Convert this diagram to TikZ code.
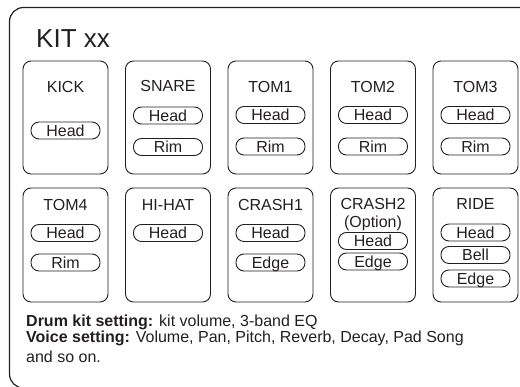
\documentclass[tikz,border=0pt]{standalone}
\usepackage{fontspec}
\setmainfont{Liberation Sans}
\definecolor{ink}{HTML}{231F20}
\tikzset{
  frame/.style={draw=ink, line width=1.2pt, rounded corners=14pt},
  pad/.style={draw=ink, line width=0.9pt, rounded corners=8pt, minimum width=85pt, inner sep=0pt},
  pill/.style={draw=ink, line width=0.9pt, rounded corners=8pt, minimum width=69pt, minimum height=17pt,
    inner sep=0pt, text height=11.4pt, text depth=0pt, text=ink, font=\fontsize{16}{16}\selectfont},
  ttl/.style={anchor=base, inner sep=0pt, text=ink, font=\fontsize{16}{16}\selectfont},
  note/.style={anchor=base west, inner sep=0pt, text=ink, font=\fontsize{16}{16}\selectfont}
}
\begin{document}
\begin{tikzpicture}[x=1pt,y=-1pt]
\useasboundingbox (0,0) rectangle (520,386);
\begin{scope}
\clip (0,0) rectangle (520,386);
\draw[frame] (9.5,7.5) rectangle (550,388);
\end{scope}
\node[anchor=base west, inner sep=0pt, text=ink, font=\fontsize{26}{26}\selectfont] (kit) at (36,47) {KIT xx};
% row 1 pads
\foreach \n/\x in {kick/65.5, snare/168, tomone/270.5, tomtwo/373, tomthree/475.5}{
  \node[pad, minimum height=113pt] (\n) at (\x,117.5) {};
}
\foreach \n/\x in {tomfour/65.5, hihat/168, crashone/270.5, crashtwo/373, ride/475.5}{
  \node[pad, minimum height=114pt] (\n) at (\x,245) {};
}
% row 1 titles
\node[ttl] (kickT) at (65.5,92) {KICK};
\node[ttl] (snareT) at (168,91.5) {SNARE};
\node[ttl] (tomoneT) at (270.5,92) {TOM1};
\node[ttl] (tomtwoT) at (373,92) {TOM2};
\node[ttl] (tomthreeT) at (475.5,92) {TOM3};
% row 1 pills
\node[pill] (kickH) at (65.5,130.5) {Head};
\node[pill] (snareH) at (168,115.5) {Head};
\node[pill] (snareR) at (168,147) {Rim};
\node[pill] (tomoneH) at (270.5,115) {Head};
\node[pill] (tomoneR) at (270.5,146.5) {Rim};
\node[pill] (tomtwoH) at (373,115) {Head};
\node[pill] (tomtwoR) at (373,146.5) {Rim};
\node[pill] (tomthreeH) at (475.5,115) {Head};
\node[pill] (tomthreeR) at (475.5,146.5) {Rim};
% row 2 titles
\node[ttl] (tomfourT) at (65.5,210) {TOM4};
\node[ttl] (hihatT) at (168,210) {HI-HAT};
\node[ttl] (crashoneT) at (270.5,210) {CRASH1};
\node[ttl] (crashtwoT) at (373,209) {CRASH2};
\node[ttl] (crashtwoO) at (373,227.5) {(Option)};
\node[ttl] (rideT) at (475.5,209) {RIDE};
% row 2 pills
\node[pill] (tomfourH) at (65.5,233) {Head};
\node[pill] (tomfourR) at (65.5,262.5) {Rim};
\node[pill] (hihatH) at (168,233) {Head};
\node[pill] (crashoneH) at (270.5,233) {Head};
\node[pill] (crashoneE) at (270.5,262.5) {Edge};
\node[pill] (crashtwoH) at (373,241) {Head};
\node[pill] (crashtwoE) at (373,261.5) {Edge};
\node[pill] (rideH) at (475.5,232.5) {Head};
\node[pill] (rideB) at (475.5,255) {Bell};
\node[pill] (rideE) at (475.5,278.5) {Edge};
% notes
\node[note] (noteA) at (26,326) {\textbf{Drum kit setting:} kit volume, 3-band EQ};
\node[note] (noteB) at (26,342) {\textbf{Voice setting:} Volume, Pan, Pitch, Reverb, Decay, Pad Song};
\node[note] (noteC) at (26,362) {and so on.};
\end{tikzpicture}
\end{document}
